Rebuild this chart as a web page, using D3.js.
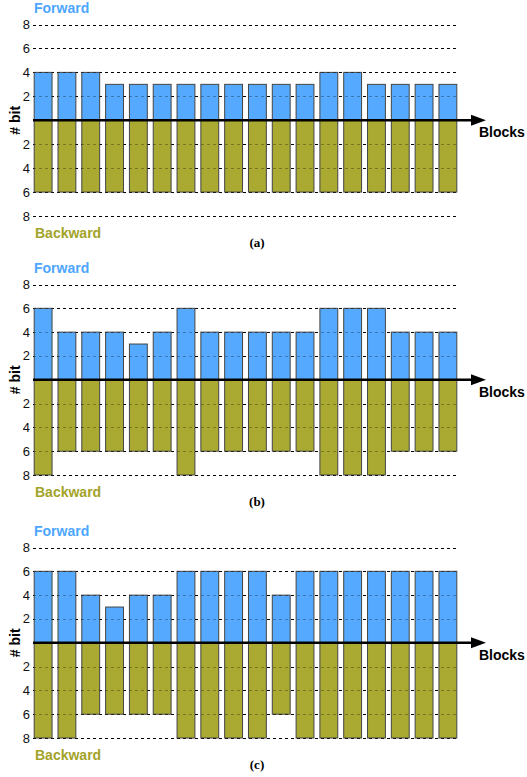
<!DOCTYPE html>
<head>
    <style>
        * { padding: 0; margin: 0; }
        body { background: #fff; }
        svg { display: block; }
        text { font-family: Arial, "Liberation Sans", sans-serif; }
        text.caption { font-family: "Liberation Serif", "Times New Roman", serif; }
    </style>
    <script src="https://cdn.jsdelivr.net/npm/d3@7/dist/d3.min.js"></script>
</head>
<body>
<script>
    /////////////////////////////////////////////////////
    // DATA
    /////////////////////////////////////////////////////

    const blocks = d3.range(18)
    const gridLevels = [-8, -6, -4, -2, 2, 4, 6, 8]
    const tickLabels = ["8", "6", "4", "2", "2", "4", "6", "8"]
    const panelNames = ["(a)", "(b)", "(c)"]

    const forwardA  = [4, 4, 4, 3, 3, 3, 3, 3, 3, 3, 3, 3, 4, 4, 3, 3, 3, 3]
    const backwardA = [6, 6, 6, 6, 6, 6, 6, 6, 6, 6, 6, 6, 6, 6, 6, 6, 6, 6]
    const forwardB  = [6, 4, 4, 4, 3, 4, 6, 4, 4, 4, 4, 4, 6, 6, 6, 4, 4, 4]
    const backwardB = [8, 6, 6, 6, 6, 6, 8, 6, 6, 6, 6, 6, 8, 8, 8, 6, 6, 6]
    const forwardC  = [6, 6, 4, 3, 4, 4, 6, 6, 6, 6, 4, 6, 6, 6, 6, 6, 6, 6]
    const backwardC = [8, 8, 6, 6, 6, 6, 8, 8, 8, 8, 6, 8, 8, 8, 8, 8, 8, 8]

    const panels = [
        { name: panelNames[0], fwd: forwardA, bwd: backwardA, top: 24.5, bottom: 216 },
        { name: panelNames[1], fwd: forwardB, bwd: backwardB, top: 284.5, bottom: 475 },
        { name: panelNames[2], fwd: forwardC, bwd: backwardC, top: 547.5, bottom: 738 }
    ]

    /////////////////////////////////////////////////////
    // SETUP
    /////////////////////////////////////////////////////

    const width = 527
    const height = 777
    const blue = "#55aaff"
    const olive = "#aaaa33"
    const xLeft = 33
    const xRight = 458

    const svg = d3.select("body").append("svg")
        .attr("width", width)
        .attr("height", height)

    const x = d3.scaleBand()
        .domain(blocks)
        .range([xLeft, xRight])
        .paddingInner(0.25)
        .paddingOuter(0.05)

    /////////////////////////////////////////////////////
    // DRAW EACH PANEL
    /////////////////////////////////////////////////////

    panels.forEach(p => {
        const y = d3.scaleLinear().domain([8, -8]).range([p.top, p.bottom])
        const g = svg.append("g")
        const zero = y(0)

        //Dashed grid lines (full strength behind, faint on top of the bars)
        const drawGrid = (opacity) => {
            g.append("g").selectAll("line")
                .data(gridLevels)
                .join("line")
                .attr("x1", xLeft)
                .attr("x2", xRight)
                .attr("y1", d => Math.round(y(d)) + 0.5)
                .attr("y2", d => Math.round(y(d)) + 0.5)
                .attr("stroke", "#000")
                .attr("stroke-opacity", opacity)
                .attr("stroke-width", 1)
                .attr("stroke-dasharray", "3,3")
        }
        drawGrid(1)

        //Tick labels
        g.append("g").selectAll("text")
            .data(gridLevels)
            .join("text")
            .attr("x", 30)
            .attr("y", d => y(d) + 4.5)
            .attr("text-anchor", "end")
            .attr("font-size", 13)
            .attr("fill", "#111")
            .text((d, i) => tickLabels[i])

        //Forward bars
        g.append("g").selectAll("rect")
            .data(p.fwd)
            .join("rect")
            .attr("x", (d, i) => x(i))
            .attr("y", d => y(d))
            .attr("width", x.bandwidth())
            .attr("height", d => zero - y(d))
            .attr("fill", blue)
            .attr("stroke", "#444")
            .attr("stroke-width", 1)

        //Backward bars
        g.append("g").selectAll("rect")
            .data(p.bwd)
            .join("rect")
            .attr("x", (d, i) => x(i))
            .attr("y", zero)
            .attr("width", x.bandwidth())
            .attr("height", d => y(-d) - zero)
            .attr("fill", olive)
            .attr("stroke", "#444")
            .attr("stroke-width", 1)

        drawGrid(0.3)

        //Horizontal axis with arrow
        g.append("line")
            .attr("x1", xLeft)
            .attr("x2", 473)
            .attr("y1", zero)
            .attr("y2", zero)
            .attr("stroke", "#000")
            .attr("stroke-width", 2.5)
        g.append("path")
            .attr("d", `M471,${zero - 5.5}L486,${zero}L471,${zero + 5.5}Z`)
            .attr("fill", "#000")

        g.append("text")
            .attr("x", 479)
            .attr("y", zero + 17)
            .attr("font-size", 14)
            .attr("font-weight", "bold")
            .text("Blocks")

        //Y axis title
        g.append("text")
            .attr("transform", `translate(20,${zero}) rotate(-90)`)
            .attr("text-anchor", "middle")
            .attr("font-size", 14)
            .attr("font-weight", "bold")
            .text("# bit")

        //Direction labels
        g.append("text")
            .attr("x", 34)
            .attr("y", p.top - 12)
            .attr("font-size", 14)
            .attr("font-weight", "bold")
            .attr("fill", "#4da6ff")
            .text("Forward")

        g.append("text")
            .attr("x", 35)
            .attr("y", p.bottom + 22)
            .attr("font-size", 14)
            .attr("font-weight", "bold")
            .attr("fill", "#a3a329")
            .text("Backward")

        //Panel caption
        g.append("text")
            .attr("class", "caption")
            .attr("x", 257)
            .attr("y", p.bottom + 31)
            .attr("text-anchor", "middle")
            .attr("font-size", 13)
            .attr("font-weight", "bold")
            .text(p.name)
    })
</script>
</body>
